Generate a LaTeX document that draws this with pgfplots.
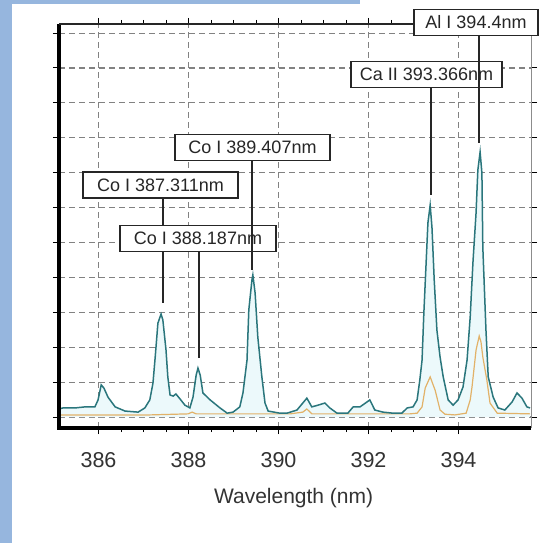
\documentclass[border=0pt]{standalone}
\usepackage{pgfplots}
\pgfplotsset{compat=1.18}
\usepackage{fontspec}
\setmainfont{Liberation Sans}
\definecolor{borderblue}{RGB}{150,182,222}
\definecolor{tealline}{RGB}{42,118,124}
\definecolor{tealfill}{RGB}{236,249,251}
\definecolor{orangeline}{RGB}{226,178,104}
\definecolor{gridgray}{RGB}{130,130,130}
\begin{document}
\begin{tikzpicture}[x=1pt,y=1pt]
\fill[white] (0,0) rectangle (539,543);
\fill[borderblue] (0,0) rectangle (12,543);
\fill[borderblue] (0,539) rectangle (360,543);
\begin{axis}[
  at={(59pt,115pt)}, anchor=south west,
  scale only axis, width=472pt, height=404pt,
  xmin=385.122, xmax=395.611, ymin=-0.315, ymax=11.26,
  clip=false,
  axis line style={draw=none},
  xtick={386,388,390,392,394},
  minor x tick num=3,
  ytick={0,1,...,11}, yticklabels={},
  tick align=outside,
  major tick length=6pt, minor tick length=4pt,
  tick style={black, line width=1pt},
  grid=major,
  major grid style={gridgray, line width=1.1pt, dash pattern=on 6pt off 4pt},
  /pgf/number format/assume math mode=true,
  xticklabel style={font=\fontsize{21.5}{24}\selectfont, text=black!80, yshift=-15pt},
  xlabel={Wavelength (nm)},
  xlabel style={font=\fontsize{21}{24}\selectfont, text=black!80, at={(axis description cs:0.497,-0.173)}, anchor=center},
]
\addplot[draw=none, fill=tealfill, forget plot] table {
x y
385.122 0.23
385.21 0.26
385.48 0.26
385.70 0.29
385.92 0.29
385.99 0.49
386.06 0.92
386.12 0.83
386.21 0.57
386.37 0.29
386.59 0.17
386.88 0.14
387.03 0.26
387.14 0.49
387.21 0.97
387.26 1.72
387.32 2.69
387.39 2.95
387.43 2.78
387.50 1.92
387.54 1.15
387.59 0.63
387.66 0.60
387.72 0.66
387.81 0.52
387.92 0.34
388.03 0.26
388.10 0.57
388.17 1.20
388.21 1.40
388.26 1.20
388.32 0.69
388.48 0.49
388.70 0.26
388.86 0.11
388.99 0.14
389.14 0.29
389.21 0.69
389.30 1.63
389.34 3.07
389.41 3.93
389.43 4.07
389.48 3.55
389.54 2.29
389.63 1.15
389.70 0.40
389.77 0.17
390.03 0.11
390.19 0.11
390.41 0.20
390.54 0.40
390.63 0.54
390.74 0.29
390.88 0.34
391.03 0.40
391.14 0.26
391.30 0.11
391.54 0.11
391.66 0.29
391.81 0.29
391.90 0.37
392.03 0.49
392.14 0.20
392.32 0.14
392.54 0.11
392.74 0.11
392.86 0.26
392.99 0.29
393.08 0.49
393.14 1.06
393.19 1.63
393.23 2.98
393.28 4.41
393.32 5.56
393.37 6.07
393.41 5.44
393.46 3.93
393.52 2.49
393.59 1.72
393.66 1.15
393.77 0.49
393.88 0.34
393.99 0.49
394.10 0.86
394.19 1.63
394.26 2.87
394.32 4.41
394.39 5.85
394.43 7.08
394.48 7.59
394.52 6.99
394.54 4.87
394.61 2.49
394.66 1.15
394.77 0.57
394.88 0.26
395.03 0.20
395.19 0.43
395.30 0.69
395.41 0.54
395.52 0.29
395.59 0.26
} \closedcycle;
\addplot[orangeline, line width=1.2pt, sharp plot] table {
x y
385.122 0.06
387.14 0.06
387.99 0.09
388.08 0.14
388.17 0.09
390.26 0.09
390.54 0.14
390.63 0.23
390.74 0.09
392.92 0.09
393.08 0.11
393.19 0.29
393.26 0.83
393.37 1.15
393.48 0.77
393.59 0.20
393.70 0.08
393.92 0.06
394.17 0.11
394.26 0.49
394.30 0.86
394.39 1.92
394.46 2.32
394.50 2.15
394.54 1.72
394.63 1.06
394.70 0.40
394.86 0.11
395.59 0.09
};
\addplot[tealline, line width=1.5pt, sharp plot] table {
x y
385.122 0.23
385.21 0.26
385.48 0.26
385.70 0.29
385.92 0.29
385.99 0.49
386.06 0.92
386.12 0.83
386.21 0.57
386.37 0.29
386.59 0.17
386.88 0.14
387.03 0.26
387.14 0.49
387.21 0.97
387.26 1.72
387.32 2.69
387.39 2.95
387.43 2.78
387.50 1.92
387.54 1.15
387.59 0.63
387.66 0.60
387.72 0.66
387.81 0.52
387.92 0.34
388.03 0.26
388.10 0.57
388.17 1.20
388.21 1.40
388.26 1.20
388.32 0.69
388.48 0.49
388.70 0.26
388.86 0.11
388.99 0.14
389.14 0.29
389.21 0.69
389.30 1.63
389.34 3.07
389.41 3.93
389.43 4.07
389.48 3.55
389.54 2.29
389.63 1.15
389.70 0.40
389.77 0.17
390.03 0.11
390.19 0.11
390.41 0.20
390.54 0.40
390.63 0.54
390.74 0.29
390.88 0.34
391.03 0.40
391.14 0.26
391.30 0.11
391.54 0.11
391.66 0.29
391.81 0.29
391.90 0.37
392.03 0.49
392.14 0.20
392.32 0.14
392.54 0.11
392.74 0.11
392.86 0.26
392.99 0.29
393.08 0.49
393.14 1.06
393.19 1.63
393.23 2.98
393.28 4.41
393.32 5.56
393.37 6.07
393.41 5.44
393.46 3.93
393.52 2.49
393.59 1.72
393.66 1.15
393.77 0.49
393.88 0.34
393.99 0.49
394.10 0.86
394.19 1.63
394.26 2.87
394.32 4.41
394.39 5.85
394.43 7.08
394.48 7.59
394.52 6.99
394.54 4.87
394.61 2.49
394.66 1.15
394.77 0.57
394.88 0.26
395.03 0.20
395.19 0.43
395.30 0.69
395.41 0.54
395.52 0.29
395.59 0.26
};
% frame
\draw[black, line width=3.5pt] (rel axis cs:0,1) -- (rel axis cs:0,0) -- (rel axis cs:1,0);
\draw[black!85, line width=2pt] (rel axis cs:0,1) -- (rel axis cs:1,1);
\draw[black!45, line width=0.8pt] (rel axis cs:1,0) -- (rel axis cs:1,1);
% annotations
\tikzset{lbl/.style={draw=black!85, line width=1.3pt, fill=white, minimum height=26pt, inner sep=0pt, font=\fontsize{18}{20}\selectfont, text=black!85}}
\draw[black!85, line width=1.5pt] (axis cs:387.43,6.275) -- (axis cs:387.43,3.27);
\node[lbl, minimum width=155pt] at (axis cs:387.378,6.648) {Co I 387.311nm};
\draw[black!85, line width=1.5pt] (axis cs:388.233,4.728) -- (axis cs:388.233,1.69);
\node[lbl, minimum width=156pt] at (axis cs:388.211,5.115) {Co I 388.187nm};
\draw[black!85, line width=1.5pt] (axis cs:389.411,7.335) -- (axis cs:389.411,4.212);
\node[lbl, minimum width=155pt] at (axis cs:389.422,7.722) {Co I 389.407nm};
\draw[black!85, line width=1.5pt] (axis cs:393.389,9.456) -- (axis cs:393.389,6.361);
\node[lbl, minimum width=151pt] at (axis cs:393.289,9.814) {Ca II 393.366nm};
\draw[black!85, line width=1.5pt] (axis cs:394.456,10.946) -- (axis cs:394.456,7.851);
\node[lbl, minimum width=124pt] at (axis cs:394.389,11.304) {Al I 394.4nm};
\end{axis}
\pgfresetboundingbox
\useasboundingbox (0,0) rectangle (539,543);
\end{tikzpicture}
\end{document}
